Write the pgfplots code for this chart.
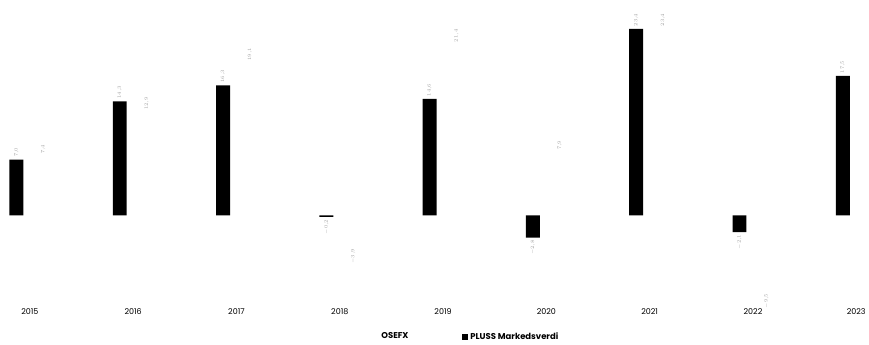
\documentclass[border=0pt]{standalone}
\usepackage{fontspec}
\setmainfont{Poppins}
\usepackage{pgfplots}
\pgfplotsset{compat=1.18}
\begin{document}
\begin{tikzpicture}[x=1pt,y=1pt]
\path (0,0) rectangle (869,342);
\begin{axis}[
 at={(0pt,42pt)}, anchor=south west,
 scale only axis, width=869pt, height=300pt,
 xmin=-0.2895, xmax=8.0965, ymin=-10.5, ymax=27,
 axis line style={draw=none}, ytick=\empty,
 xtick={0,1,2,3,4,5,6,7,8},
 xticklabels={2015,2016,2017,2018,2019,2020,2021,2022,2023},
 major tick length=0pt,
 xticklabel style={font=\fontsize{8}{9}\selectfont, yshift=-6pt},
 ybar, bar width=14pt,
 legend style={at={(0.539,-0.125)}, anchor=center, draw=none, fill=none, legend columns=2,
   font=\bfseries\fontsize{8.5}{10}\selectfont,
   /tikz/every even column/.append style={column sep=52pt}},
 nodes near coords={\pgfmathprintnumber[fixed,fixed zerofill,precision=1,use comma]{\pgfplotspointmeta}},
 every node near coord/.append style={font=\fontsize{5}{6}\selectfont, text=gray!75, rotate=90, inner sep=2.5pt},
]
\addplot[fill=black, draw=none, bar shift=-13.5pt,
  every node near coord/.append style={anchor=west},
  legend image code/.code={\fill[white] (0pt,-3pt) rectangle (6pt,3pt);}]
  coordinates {(0,7.0)(1,14.3)(2,16.3)(4,14.6)(6,23.4)(8,17.5)};
\addlegendentry{OSEFX}
\addplot[fill=black, draw=none, bar shift=-13.5pt, forget plot,
  every node near coord/.append style={anchor=east}]
  coordinates {(3,-0.2)(5,-2.8)(7,-2.1)};
\addplot[fill=none, draw=none, bar shift=13.5pt,
  every node near coord/.append style={anchor=west},
  legend image code/.code={\fill[black] (0pt,-3pt) rectangle (6pt,3pt);}]
  coordinates {(0,7.4)(1,12.9)(2,19.1)(4,21.4)(5,7.9)(6,23.4)};
\addlegendentry{PLUSS Markedsverdi}
\addplot[fill=none, draw=none, bar shift=13.5pt, forget plot,
  every node near coord/.append style={anchor=east}]
  coordinates {(3,-3.9)(7,-9.5)};
\end{axis}
\end{tikzpicture}
\end{document}
